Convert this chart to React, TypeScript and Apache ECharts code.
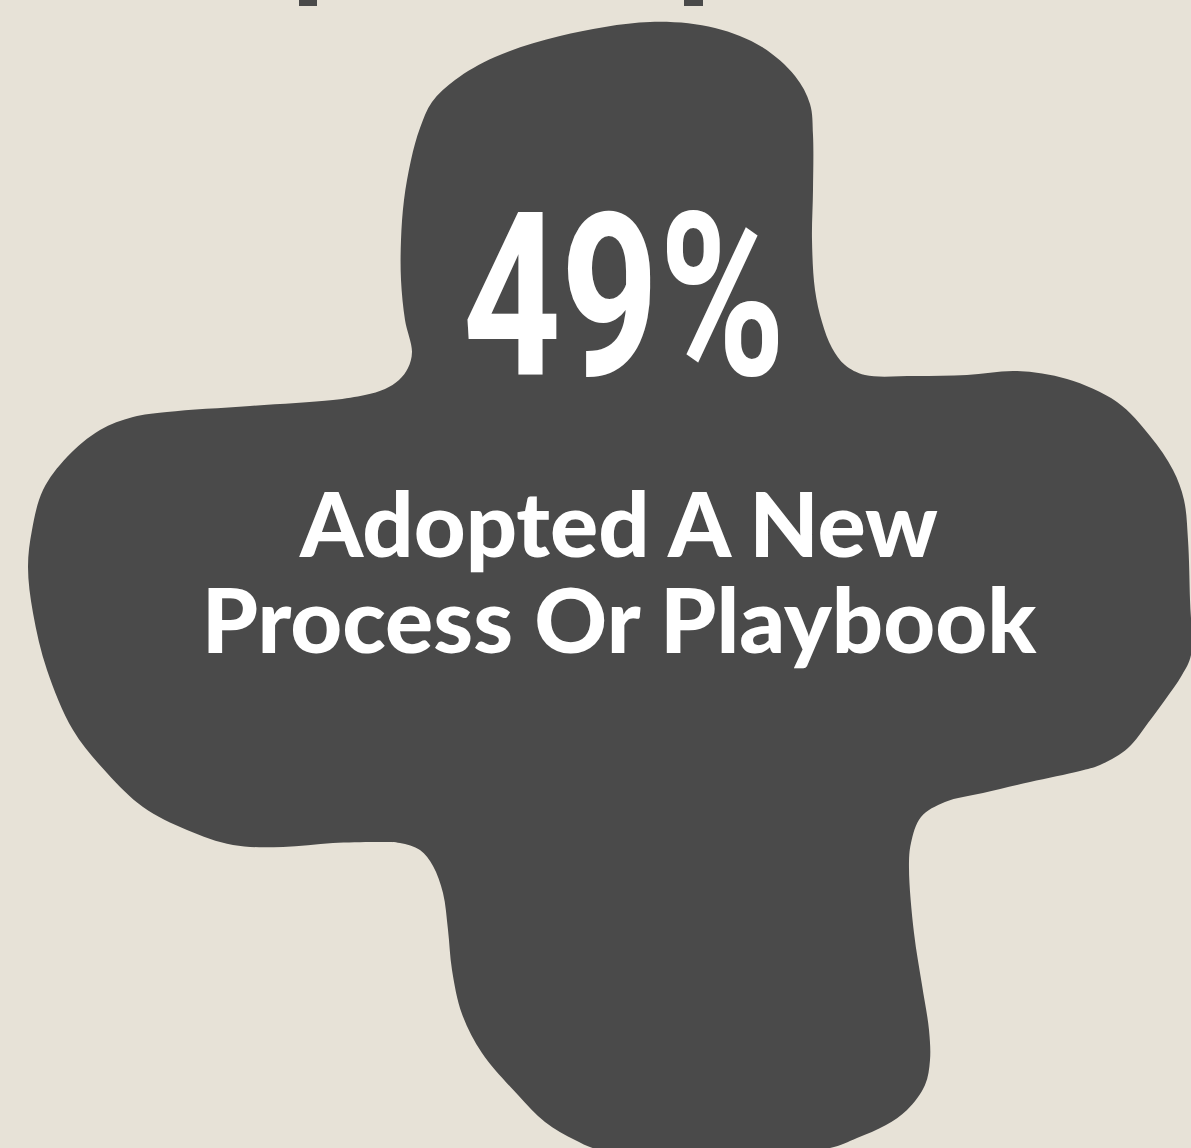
import React, { useEffect, useRef } from "react";
import * as echarts from "echarts";

// ---- data ----
const statValues = [49];
const statUnit = "%";
const labelLines = ["Adopted A New", "Process Or Playbook"];

// ---- decorative blob outline (shape geometry, clockwise) ----
const blobOutline: [number, number][] = [
  [650, 22], [715, 28], [762, 47], [795, 76], [810, 104], [813, 135], [813, 190],
  [812, 240], [815, 290], [822, 322], [832, 348], [845, 365], [865, 375],
  [915, 376], [967, 375], [1017, 371], [1067, 379], [1117, 402], [1150, 436],
  [1173, 470], [1184, 500], [1188, 540], [1190, 600], [1191, 655], [1182, 675],
  [1165, 700], [1148, 723], [1128, 748], [1100, 765], [1080, 771], [1030, 782],
  [983, 793], [945, 802], [921, 817], [911, 843], [909, 868], [914, 933],
  [922, 985], [929, 1030], [930, 1060], [925, 1085], [907, 1110], [886, 1125],
  [857, 1138], [830, 1148], [760, 1154], [680, 1154], [600, 1150],
  [575, 1140], [545, 1122], [518, 1095], [482, 1053], [462, 1014],
  [452, 970], [448, 930], [443, 893], [433, 866], [420, 850], [400, 843],
  [383, 842], [333, 843], [283, 847], [233, 845], [187, 830], [143, 807],
  [107, 773], [73, 730], [47, 670], [33, 613], [28, 567], [32, 530],
  [43, 490], [67, 457], [100, 430], [133, 417], [167, 412], [250, 406],
  [333, 400], [365, 395], [385, 389], [399, 380], [408, 368], [412, 352],
  [405, 320], [401, 280], [401, 240], [404, 200], [411, 160], [420, 128],
  [432, 102], [455, 80], [495, 57], [560, 36],
];

// centripetal Catmull-Rom -> cubic bezier path
function smoothClosedPath(pts: [number, number][]): string {
  const n = pts.length;
  const a = 0.5;
  const dist = (p: number[], q: number[]) =>
    Math.max(1e-6, Math.pow(Math.hypot(q[0] - p[0], q[1] - p[1]), a));
  let d = `M${pts[0][0]},${pts[0][1]}`;
  for (let i = 0; i < n; i++) {
    const p0 = pts[(i - 1 + n) % n];
    const p1 = pts[i];
    const p2 = pts[(i + 1) % n];
    const p3 = pts[(i + 2) % n];
    const d1 = dist(p0, p1);
    const d2 = dist(p1, p2);
    const d3 = dist(p2, p3);
    const c1 = [0, 1].map(
      (k) =>
        (d1 * d1 * p2[k] - d2 * d2 * p0[k] + (2 * d1 * d1 + 3 * d1 * d2 + d2 * d2) * p1[k]) /
        (3 * d1 * (d1 + d2))
    );
    const c2 = [0, 1].map(
      (k) =>
        (d3 * d3 * p1[k] - d2 * d2 * p3[k] + (2 * d3 * d3 + 3 * d3 * d2 + d2 * d2) * p2[k]) /
        (3 * d3 * (d3 + d2))
    );
    d += ` C${c1[0].toFixed(2)},${c1[1].toFixed(2)} ${c2[0].toFixed(2)},${c2[1].toFixed(2)} ${p2[0]},${p2[1]}`;
  }
  return d + " Z";
}

let registered = false;
function ensureShape() {
  if (registered) return;
  const Cls = echarts.graphic.extendPath(smoothClosedPath(blobOutline), {});
  echarts.graphic.registerShape("blob", Cls as any);
  registered = true;
}

const BG = "#e7e2d7";
const INK = "#4a4a4a";

export default function App() {
  const ref = useRef<HTMLDivElement>(null);
  useEffect(() => {
    document.body.style.margin = "0";
    if (!ref.current) return;
    ensureShape();
    const chart = echarts.init(ref.current, undefined, { renderer: "svg" });
    const statText = `${statValues[0]}${statUnit}`;
    chart.setOption({
      animation: false,
      backgroundColor: BG,
      graphic: [
        { type: "blob", x: 0, y: 0, style: { fill: INK } },
        { type: "rect", shape: { x: 299, y: -4, width: 18, height: 10 }, style: { fill: INK } },
        { type: "rect", shape: { x: 684, y: -4, width: 19, height: 10 }, style: { fill: INK } },
        {
          type: "text",
          x: 624,
          y: 297,
          scaleX: 0.75,
          style: {
            text: statText,
            fill: "#ffffff",
            font: "bold 228px Roboto, 'DejaVu Sans', sans-serif",
            textAlign: "center",
            verticalAlign: "middle",
          },
        },
        {
          type: "text",
          x: 619,
          y: 570,
          style: {
            text: labelLines.join("\n"),
            fill: "#ffffff",
            font: "900 90px Lato, sans-serif",
            lineHeight: 96,
            textAlign: "center",
            verticalAlign: "middle",
          },
        },
      ],
    });
    return () => chart.dispose();
  }, []);
  return <div ref={ref} style={{ width: 1191, height: 1148 }} />;
}
